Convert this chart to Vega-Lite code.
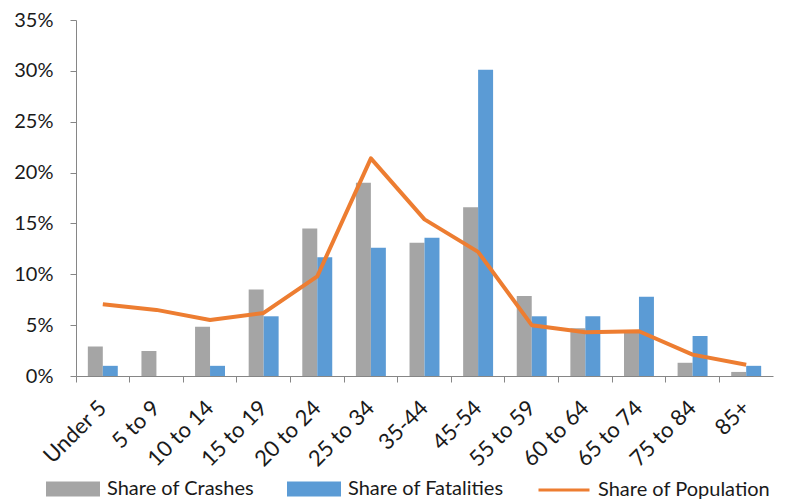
{
  "$schema": "https://vega.github.io/schema/vega-lite/v6.json",
  "width": 697,
  "height": 356,
  "autosize": {"type": "none"},
  "padding": {"left": 76, "top": 20, "right": 28, "bottom": 124},
  "background": "white",
  "config": {
    "view": {"stroke": null},
    "font": "Lato",
    "axis": {"labelFont": "Lato", "labelFontSize": 20, "labelColor": "#1a1a1a", "domainColor": "#868686", "tickColor": "#868686", "grid": false, "title": null},
    "legend": {"labelFont": "Lato", "labelFontSize": 20, "labelColor": "#1a1a1a", "labelLimit": 0}
  },
  "data": {
    "values": [
      {"age": "Under 5", "series": "Share of Crashes", "value": 0.029},
      {"age": "Under 5", "series": "Share of Fatalities", "value": 0.010},
      {"age": "Under 5", "series": "Share of Population", "value": 0.0705},
      {"age": "5 to 9", "series": "Share of Crashes", "value": 0.0246},
      {"age": "5 to 9", "series": "Share of Fatalities", "value": 0.0},
      {"age": "5 to 9", "series": "Share of Population", "value": 0.065},
      {"age": "10 to 14", "series": "Share of Crashes", "value": 0.0485},
      {"age": "10 to 14", "series": "Share of Fatalities", "value": 0.010},
      {"age": "10 to 14", "series": "Share of Population", "value": 0.055},
      {"age": "15 to 19", "series": "Share of Crashes", "value": 0.085},
      {"age": "15 to 19", "series": "Share of Fatalities", "value": 0.0587},
      {"age": "15 to 19", "series": "Share of Population", "value": 0.062},
      {"age": "20 to 24", "series": "Share of Crashes", "value": 0.145},
      {"age": "20 to 24", "series": "Share of Fatalities", "value": 0.1167},
      {"age": "20 to 24", "series": "Share of Population", "value": 0.098},
      {"age": "25 to 34", "series": "Share of Crashes", "value": 0.190},
      {"age": "25 to 34", "series": "Share of Fatalities", "value": 0.126},
      {"age": "25 to 34", "series": "Share of Population", "value": 0.214},
      {"age": "35-44", "series": "Share of Crashes", "value": 0.131},
      {"age": "35-44", "series": "Share of Fatalities", "value": 0.136},
      {"age": "35-44", "series": "Share of Population", "value": 0.154},
      {"age": "45-54", "series": "Share of Crashes", "value": 0.166},
      {"age": "45-54", "series": "Share of Fatalities", "value": 0.301},
      {"age": "45-54", "series": "Share of Population", "value": 0.122},
      {"age": "55 to 59", "series": "Share of Crashes", "value": 0.0787},
      {"age": "55 to 59", "series": "Share of Fatalities", "value": 0.0587},
      {"age": "55 to 59", "series": "Share of Population", "value": 0.050},
      {"age": "60 to 64", "series": "Share of Crashes", "value": 0.047},
      {"age": "60 to 64", "series": "Share of Fatalities", "value": 0.0587},
      {"age": "60 to 64", "series": "Share of Population", "value": 0.043},
      {"age": "65 to 74", "series": "Share of Crashes", "value": 0.044},
      {"age": "65 to 74", "series": "Share of Fatalities", "value": 0.078},
      {"age": "65 to 74", "series": "Share of Population", "value": 0.044},
      {"age": "75 to 84", "series": "Share of Crashes", "value": 0.013},
      {"age": "75 to 84", "series": "Share of Fatalities", "value": 0.0393},
      {"age": "75 to 84", "series": "Share of Population", "value": 0.021},
      {"age": "85+", "series": "Share of Crashes", "value": 0.004},
      {"age": "85+", "series": "Share of Fatalities", "value": 0.010},
      {"age": "85+", "series": "Share of Population", "value": 0.011}
    ]
  },
  "encoding": {
    "x": {
      "field": "age",
      "type": "nominal",
      "sort": ["Under 5", "5 to 9", "10 to 14", "15 to 19", "20 to 24", "25 to 34", "35-44", "45-54", "55 to 59", "60 to 64", "65 to 74", "75 to 84", "85+"],
      "scale": {"paddingInner": 0, "paddingOuter": 0},
      "axis": {"labelAngle": -45, "labelAlign": "right", "labelBaseline": "middle", "bandPosition": 0, "tickSize": 6, "labelPadding": 22, "labelFontSize": 22}
    },
    "y": {
      "field": "value",
      "type": "quantitative",
      "scale": {"domain": [0, 0.35], "nice": false},
      "axis": {"values": [0, 0.05, 0.1, 0.15, 0.2, 0.25, 0.3, 0.35], "format": ".0%", "tickSize": 6, "labelPadding": 17}
    },
    "color": {
      "field": "series",
      "type": "nominal",
      "scale": {"domain": ["Share of Crashes", "Share of Fatalities", "Share of Population"], "range": ["#A5A5A5", "#5B9BD5", "#ED7D31"]},
      "legend": {
        "title": null,
        "orient": "none",
        "legendX": -30,
        "legendY": 442,
        "direction": "horizontal",
        "columnPadding": 28,
        "labelOffset": 7,
        "symbolSize": 2601,
        "symbolStrokeWidth": 3,
        "encode": {
          "symbols": {
            "update": {
              "shape": {"signal": "datum.value === 'Share of Population' ? 'M-1,0H1' : 'M-1,-0.235H1V0.235H-1Z'"},
              "fill": {"signal": "datum.value === 'Share of Population' ? 'transparent' : (datum.value === 'Share of Crashes' ? '#A5A5A5' : '#5B9BD5')"},
              "stroke": {"signal": "datum.value === 'Share of Population' ? '#ED7D31' : 'transparent'"},
              "strokeWidth": {"value": 3},
              "opacity": {"value": 1},
              "fillOpacity": {"value": 1}
            }
          }
        }
      }
    }
  },
  "layer": [
    {
      "transform": [{"filter": "datum.series !== 'Share of Population'"}],
      "mark": {"type": "bar", "opacity": 1},
      "encoding": {
        "xOffset": {"field": "series", "type": "nominal", "scale": {"domain": ["Share of Crashes", "Share of Fatalities"], "paddingInner": 0, "paddingOuter": 0.79}}
      }
    },
    {
      "transform": [{"filter": "datum.series === 'Share of Population'"}],
      "mark": {"type": "line", "strokeWidth": 4, "strokeJoin": "round"}
    },
    {
      "data": {"values": [{"label": "Source: CRIS 2010-2015"}]},
      "mark": {"type": "text", "font": "Lato", "fontSize": 22, "align": "center", "baseline": "middle", "dx": 21, "color": "#1a1a1a"},
      "encoding": {
        "x": {"datum": "65 to 74"},
        "y": {"datum": 0.2},
        "text": {"field": "label"},
        "color": null
      }
    }
  ]
}
